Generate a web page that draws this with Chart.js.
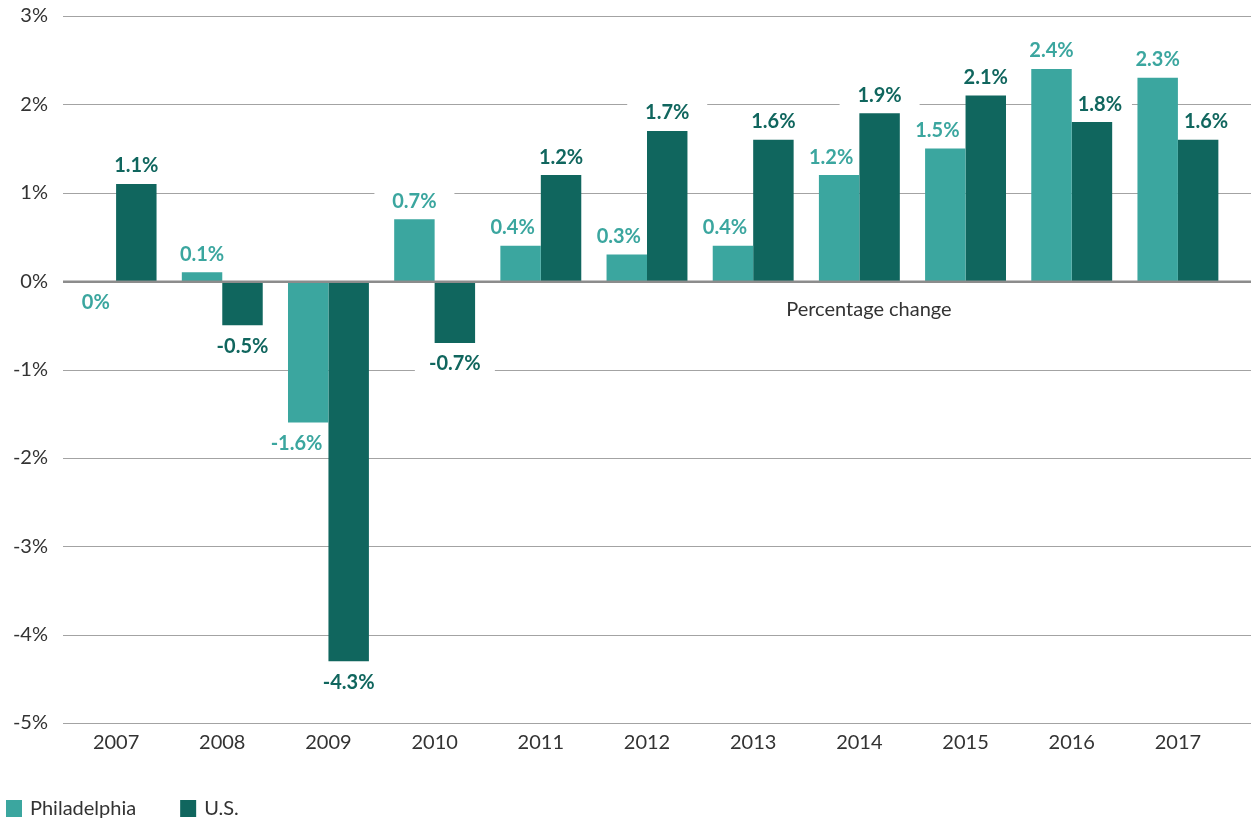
<!DOCTYPE html>
<html>
<head>
<meta charset="utf-8">
<script src="https://cdn.jsdelivr.net/npm/chart.js@4.4.1/dist/chart.umd.min.js"></script>
<style>
html,body{margin:0;padding:0;background:#fff;}
#wrap{width:1251px;height:823px;position:relative;}
</style>
</head>
<body>
<div id="wrap"><canvas id="c" width="1251" height="823"></canvas></div>
<script>
const categories = ['2007','2008','2009','2010','2011','2012','2013','2014','2015','2016','2017'];
const philadelphia = [0, 0.1, -1.6, 0.7, 0.4, 0.3, 0.4, 1.2, 1.5, 2.4, 2.3];
const us = [1.1, -0.5, -4.3, -0.7, 1.2, 1.7, 1.6, 1.9, 2.1, 1.8, 1.6];
const seriesNames = ['Philadelphia', 'U.S.'];
const yMin = -5, yMax = 3, yStep = 1;
const axisNote = 'Percentage change';

const COL_PHL = '#3BA69F';
const COL_US = '#10665E';
const TEXT = '#333333';
const FONT = 'Lato, "Open Sans", sans-serif';
const LABEL_FONT = 'bold 20px ' + FONT;
const TEXT_SIZE = 20;

function fmt(v){ return (Math.round(v*10)/10) + '%'; }

function labelPlacement(chart, di, i){
  const meta = chart.getDatasetMeta(di);
  const el = meta.data[i];
  const v = chart.data.datasets[di].data[i];
  const other = 1 - di;
  const ov = chart.data.datasets[other].data[i];
  const oel = chart.getDatasetMeta(other).data[i];
  const ctx = chart.ctx;
  ctx.font = LABEL_FONT;
  const text = fmt(v);
  const w = ctx.measureText(text).width;
  const below = v <= 0;
  const baseY = below ? Math.max(el.y, el.base) : Math.min(el.y, el.base);
  const y = below ? baseY + 21 : baseY - 18;
  let x = el.x;
  const half = oel.width / 2;
  const siblingTaller = below ? (ov < v) : (ov > v && ov > 0);
  if (siblingTaller){
    const gap = 6;
    if (oel.x > el.x){
      x = Math.min(x, oel.x - half - gap - w/2);
    } else {
      x = Math.max(x, oel.x + half + gap + w/2);
    }
  }
  return {text, x, y, boxX: el.x, w};
}

const customPlugin = {
  id: 'custom',
  beforeDatasetsDraw(chart){
    const {ctx, chartArea, scales:{y}} = chart;
    ctx.save();
    for (let v = yMin; v <= yMax; v += yStep){
      if (v === 0) continue;
      const py = Math.round(y.getPixelForValue(v)) + 0.5;
      ctx.strokeStyle = '#a3a3a3';
      ctx.lineWidth = 1;
      ctx.beginPath();
      ctx.moveTo(chartArea.left, py);
      ctx.lineTo(chart.width, py);
      ctx.stroke();
    }
    ctx.fillStyle = '#ffffff';
    chart.data.datasets.forEach((ds, di) => {
      ds.data.forEach((v, i) => {
        const p = labelPlacement(chart, di, i);
        ctx.fillRect(p.boxX - 40, p.y - 12, 80, 24);
      });
    });
    ctx.restore();
  },
  afterDatasetsDraw(chart){
    const {ctx, chartArea, scales:{y}} = chart;
    ctx.save();
    const zy = y.getPixelForValue(0);
    ctx.strokeStyle = '#8c8c8c';
    ctx.lineWidth = 2.5;
    ctx.beginPath();
    ctx.moveTo(chartArea.left, zy + 0.5);
    ctx.lineTo(chart.width, zy + 0.5);
    ctx.stroke();
    ctx.textAlign = 'center';
    ctx.textBaseline = 'middle';
    chart.data.datasets.forEach((ds, di) => {
      ctx.fillStyle = ds.backgroundColor;
      ds.data.forEach((v, i) => {
        const p = labelPlacement(chart, di, i);
        ctx.font = LABEL_FONT;
        ctx.fillText(p.text, p.x, p.y);
      });
    });
    ctx.font = TEXT_SIZE + 'px ' + FONT;
    ctx.fillStyle = TEXT;
    ctx.fillText(axisNote, chartArea.left + 0.69 * (chartArea.right - chartArea.left), zy + 28);
    ctx.textAlign = 'left';
    let lx = 6;
    const ly = 808;
    chart.data.datasets.forEach((ds) => {
      ctx.fillStyle = ds.backgroundColor;
      ctx.fillRect(lx, ly - 8, 16, 17);
      ctx.fillStyle = TEXT;
      ctx.font = TEXT_SIZE + 'px ' + FONT;
      ctx.fillText(ds.label, lx + 24, ly + 1);
      lx += 24 + ctx.measureText(ds.label).width + 44;
    });
    ctx.restore();
  }
};

new Chart(document.getElementById('c'), {
  type: 'bar',
  data: {
    labels: categories,
    datasets: [
      {label: seriesNames[0], data: philadelphia, backgroundColor: COL_PHL, borderWidth: 0},
      {label: seriesNames[1], data: us, backgroundColor: COL_US, borderWidth: 0}
    ]
  },
  options: {
    responsive: false,
    animation: false,
    devicePixelRatio: 1,
    layout: {padding: {top: 16, right: 20, bottom: 60, left: 0}},
    datasets: {bar: {categoryPercentage: 0.762, barPercentage: 1.0}},
    plugins: {
      legend: {display: false},
      tooltip: {enabled: false}
    },
    scales: {
      x: {
        grid: {display: false, drawTicks: false},
        border: {display: false},
        ticks: {color: TEXT, font: {family: FONT, size: TEXT_SIZE}, padding: 8, maxRotation: 0},
        afterFit(s){ s.height = 40; }
      },
      y: {
        min: yMin, max: yMax,
        grid: {display: false, drawTicks: true, tickLength: 15},
        border: {display: false},
        ticks: {stepSize: yStep, color: TEXT, font: {family: FONT, size: TEXT_SIZE}, padding: 0,
          callback: v => v + '%'},
        afterFit(s){ s.width = 63; }
      }
    }
  },
  plugins: [customPlugin]
});
</script>
</body>
</html>
